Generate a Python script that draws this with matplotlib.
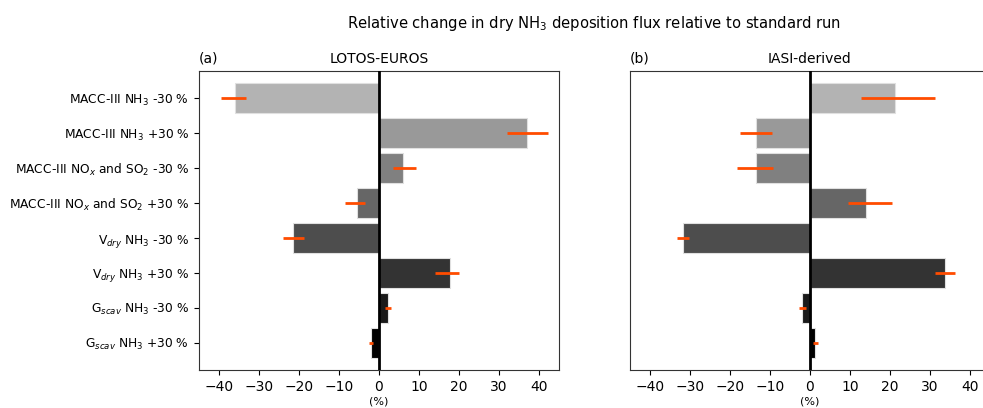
import matplotlib
matplotlib.use('Agg')
import matplotlib.pyplot as plt
import numpy as np

labels = [
    'MACC-III NH$_3$ -30 %',
    'MACC-III NH$_3$ +30 %',
    'MACC-III NO$_x$ and SO$_2$ -30 %',
    'MACC-III NO$_x$ and SO$_2$ +30 %',
    'V$_{dry}$ NH$_3$ -30 %',
    'V$_{dry}$ NH$_3$ +30 %',
    'G$_{scav}$ NH$_3$ -30 %',
    'G$_{scav}$ NH$_3$ +30 %',
]

# LOTOS-EUROS: mean change and min/max range (%)
lotos_mean = [-36.0, 36.9, 6.0, -5.6, -21.6, 17.8, 2.2, -1.9]
lotos_lo = [-39.6, 32.0, 3.5, -8.4, -24.0, 14.1, 1.4, -2.6]
lotos_hi = [-33.2, 42.2, 9.2, -3.5, -18.8, 20.0, 2.9, -1.5]

# IASI-derived
iasi_mean = [21.3, -13.5, -13.5, 14.1, -31.8, 33.7, -1.9, 1.3]
iasi_lo = [12.7, -17.6, -18.3, 9.5, -33.2, 31.2, -2.7, 0.7]
iasi_hi = [31.2, -9.5, -9.3, 20.4, -30.3, 36.2, -1.0, 1.9]

greys = ['#b3b3b3', '#999999', '#808080', '#666666',
         '#4d4d4d', '#333333', '#1a1a1a', '#000000']

fig = plt.figure(figsize=(9.83, 4.08), dpi=100)
ax_a = fig.add_axes([0.2024, 0.093, 0.3662, 0.733])
ax_b = fig.add_axes([0.6409, 0.093, 0.3662, 0.733])

y = np.arange(len(labels))

for ax, mean, lo, hi, title, tag in [
        (ax_a, lotos_mean, lotos_lo, lotos_hi, 'LOTOS-EUROS', '(a)'),
        (ax_b, iasi_mean, iasi_lo, iasi_hi, 'IASI-derived', '(b)')]:
    ax.barh(y, mean, height=0.85, color=greys, edgecolor='#e0e0e0', linewidth=0.8)
    ax.hlines(y, lo, hi, colors='#ff4c00', linewidth=2, zorder=3)
    ax.axvline(0, color='black', linewidth=2, zorder=4)
    ax.set_xlim(-45, 45)
    ax.set_ylim(-0.78, 7.78)
    ax.invert_yaxis()
    ax.set_xticks([-40, -30, -20, -10, 0, 10, 20, 30, 40])
    ax.set_xlabel('(%)', fontsize=8, labelpad=2)
    ax.set_title(title, fontsize=10)
    ax.set_title(tag, loc='left', fontsize=10)
    ax.set_yticks(y)
    for s in ax.spines.values():
        s.set_color('#333333')

ax_a.set_yticklabels(labels, fontsize=8.8)
ax_b.set_yticklabels([])
ax_b.tick_params(axis='y', length=0)

fig.suptitle('Relative change in dry NH$_3$ deposition flux relative to standard run',
             x=0.604, y=0.965, fontsize=10.6)

fig.savefig('out.png', dpi=100)
